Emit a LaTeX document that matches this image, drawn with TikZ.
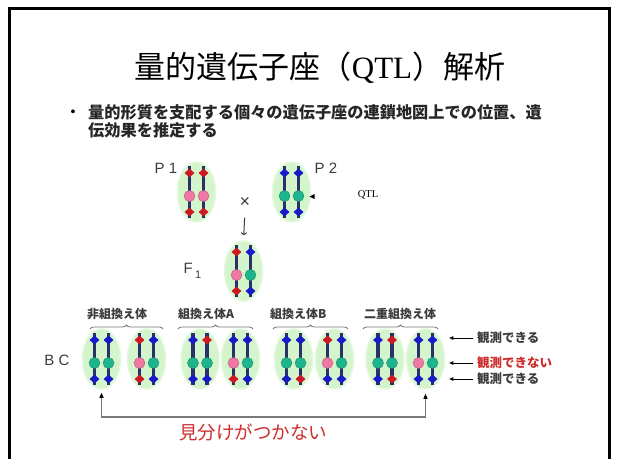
\documentclass[tikz,border=0pt]{standalone}
\usepackage{fontspec}
\setmainfont{Liberation Sans}
\newfontfamily\jp{Noto Sans CJK JP}
\newfontfamily\serifrm{Liberation Serif}
\usetikzlibrary{shapes.geometric,arrows.meta,decorations.pathreplacing}

\definecolor{chrnavy}{RGB}{40,50,105}
\definecolor{mr}{RGB}{205,25,35}
\definecolor{mb}{RGB}{25,25,200}
\definecolor{qp}{RGB}{240,120,165}
\definecolor{qg}{RGB}{30,180,140}
\definecolor{bgreen}{RGB}{212,245,204}
\definecolor{txtgray}{RGB}{60,60,60}
\definecolor{linegray}{RGB}{120,120,120}
\definecolor{jred}{RGB}{205,45,45}

% one marker on a chromosome
\newcommand{\diam}[3]{\fill[#3] (#1-5,#2) -- (#1,#2-4.3) -- (#1+5,#2) -- (#1,#2+4.3) -- cycle;}
% one chromosome: x, y of QTL, top marker, QTL, bottom marker colours
\newcommand{\chromo}[5]{%
  \draw[chrline] (#1,#2-30) -- (#1,#2+22);
  \diam{#1}{#2-23}{#3}
  \diam{#1}{#2+16}{#5}
  \filldraw[fill=#4, draw=#4!75!black, line width=0.4pt] (#1,#2) circle[radius=5.5];
}
% a homologous pair on its green background: name, x, y, left colours, right colours
\newcommand{\chrpair}[9]{%
  \node[pairbg] (#1) at (#2,#3-4) {};
  \chromo{#2-7}{#3}{#4}{#5}{#6}
  \chromo{#2+7}{#3}{#7}{#8}{#9}
}

\tikzset{
  chrline/.style={line width=3.2pt, draw=chrnavy},
  pairbg/.style={ellipse, fill=bgreen, draw=bgreen!70, line width=1.5pt,
    minimum width=38pt, minimum height=60pt, inner sep=0pt},
  framebox/.style={line width=2.6pt, draw=black},
  plabel/.style={font=\fontsize{15}{15}\selectfont, text=txtgray},
  grplabel/.style={font=\jp\bfseries\fontsize{12}{12}\selectfont, text=txtgray, anchor=west, inner sep=0pt},
  obslabel/.style={font=\jp\bfseries\fontsize{12.5}{12.5}\selectfont, text=txtgray, anchor=west, inner sep=0pt},
  grpbrace/.style={decorate, decoration={brace, amplitude=4pt}, draw=linegray, line width=0.8pt},
  obsarrow/.style={draw=black, line width=0.7pt, -{Triangle[length=4pt,width=3.5pt]}},
  linkline/.style={draw=linegray, line width=1.1pt,
    {Triangle[length=5pt,width=4pt,color=black]}-{Triangle[length=5pt,width=4pt,color=black]}},
}

\begin{document}
\begin{tikzpicture}[x=1pt,y=-1pt]
\useasboundingbox (0,0) rectangle (619,459);
\fill[white] (0,0) rectangle (619,459);
\draw[framebox] (9.5,459) -- (9.5,8.5) -- (609.5,8.5) -- (609.5,459);

% title and explanation
\node[font=\jp\fontsize{31}{31}\selectfont] (title) at (320,68)
  {量的遺伝子座（{\serifrm QTL}）解析};
\node[font=\fontsize{14}{14}\selectfont] (bullet) at (73,113) {•};
\node[font=\jp\bfseries\fontsize{16.2}{18.5}\selectfont, anchor=north west, align=left,
  inner sep=0pt, text=black!85] (expl) at (88,104)
  {量的形質を支配する個々の遺伝子座の連鎖地図上での位置、遺\\伝効果を推定する};

% parents and F1
\chrpair{p1}{196.5}{196}{mr}{qp}{mr}{mr}{qp}{mr}
\chrpair{p2}{291.5}{196}{mb}{qg}{mb}{mb}{qg}{mb}
\chrpair{f1}{243.5}{275}{mr}{qp}{mr}{mb}{qg}{mb}
\node[plabel] (lp1) at (166,168) {P 1};
\node[plabel] (lp2) at (326,168) {P 2};
\node[font=\serifrm\fontsize{10.5}{10.5}\selectfont] (qtl) at (368,195) {QTL};
\fill (314.5,194) -- (309.5,196.5) -- (314.5,199) -- cycle;
\node[font=\fontsize{18}{18}\selectfont, text=txtgray] (cross) at (245,202) {×};
\draw[line width=1pt, draw=txtgray, -{To[length=3pt,width=6pt]}, shorten <=7pt, shorten >=5pt]
  (cross.south) -- (f1.north);
\node[plabel, anchor=west] (lf1) at (180,271) {F\,\raisebox{-5pt}{\fontsize{11}{11}\selectfont 1}};

% backcross progeny
\node[plabel] (lbc) at (57,360) {B C};
\chrpair{bc1}{101.5}{363}{mb}{qg}{mb}{mb}{qg}{mb}
\chrpair{bc2}{146.5}{363}{mr}{qp}{mr}{mb}{qg}{mb}
\chrpair{bc3}{200}{363}{mb}{qg}{mb}{mr}{qg}{mb}
\chrpair{bc4}{240.5}{363}{mb}{qp}{mr}{mb}{qg}{mb}
\chrpair{bc5}{293.5}{363}{mb}{qg}{mb}{mb}{qg}{mr}
\chrpair{bc6}{334.5}{363}{mr}{qp}{mb}{mb}{qg}{mb}
\chrpair{bc7}{385}{363}{mb}{qg}{mb}{mr}{qg}{mr}
\chrpair{bc8}{425.5}{363}{mb}{qp}{mb}{mb}{qg}{mb}

% group labels with braces
\node[grplabel] (g1) at (87,314) {非組換え体};
\node[grplabel] (g2) at (178,314) {組換え体A};
\node[grplabel] (g3) at (270,314) {組換え体B};
\node[grplabel] (g4) at (364,314) {二重組換え体};
\draw[grpbrace] (90,329) -- (163,329);
\draw[grpbrace] (178,329) -- (253,329);
\draw[grpbrace] (273,329) -- (348,329);
\draw[grpbrace] (363,329) -- (438,329);

% observability of the loci
\node[obslabel] (o1) at (477,338) {観測できる};
\node[obslabel, text=jred] (o2) at (477,363) {観測できない};
\node[obslabel] (o3) at (477,379) {観測できる};
\draw[obsarrow, shorten <=4pt, shorten >=4pt] (o1.west) -- (bc8.east |- o1.west);
\draw[obsarrow, shorten <=4pt, shorten >=4pt] (o2.west) -- (bc8.east |- o2.west);
\draw[obsarrow, shorten <=4pt, shorten >=4pt] (o3.west) -- (bc8.east |- o3.west);

% indistinguishable classes
\coordinate (botline) at (0,417);
\draw[linkline, shorten <=3pt, shorten >=4pt]
  (bc1.south) -- (bc1.south |- botline) -- (bc8.south |- botline) -- (bc8.south);
\node[font=\jp\fontsize{18.5}{18.5}\selectfont, text=jred] (indist) at (253,432) {見分けがつかない};
\end{tikzpicture}
\end{document}
